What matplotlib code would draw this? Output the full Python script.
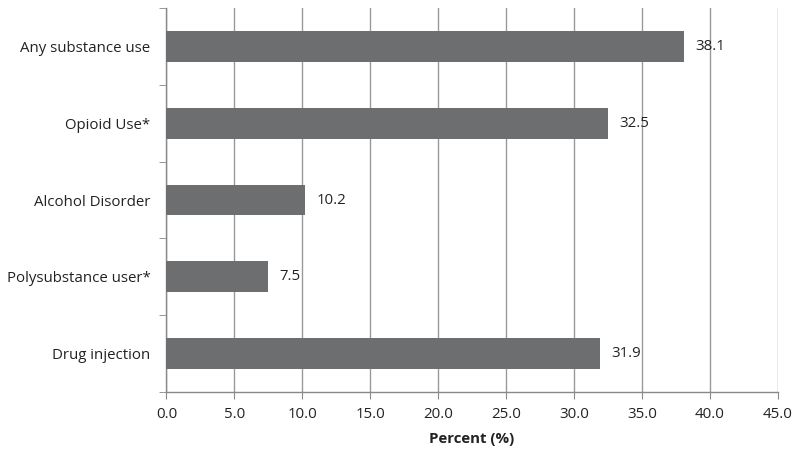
import numpy as np
import matplotlib.pyplot as plt

# data
categories = ['Any substance use', 'Opioid Use*', 'Alcohol Disorder',
              'Polysubstance user*', 'Drug injection']
values = [38.1, 32.5, 10.2, 7.5, 31.9]
xticks = [0, 5, 10, 15, 20, 25, 30, 35, 40, 45]

plt.rcParams['font.family'] = ['Open Sans', 'DejaVu Sans']
fs = 10.8

fig = plt.figure(figsize=(8, 4.58), dpi=100)
ax = fig.add_axes([0.208, 0.144, 0.764, 0.8385])

ypos = np.arange(len(categories))[::-1]
ax.barh(ypos, values, height=0.4, color='#6d6e70', zorder=3)

for y, v in zip(ypos, values):
    ax.text(v + 0.85, y, '%.1f' % v, va='center', ha='left', fontsize=fs, color='#222222')

ax.set_xlim(0, 45)
ax.set_ylim(-0.5, len(categories) - 0.5)
ax.set_xticks(xticks)
ax.set_xticklabels(['%.1f' % t for t in xticks], fontsize=fs, color='#222222')
ax.set_yticks(ypos)
ax.set_yticklabels(categories, fontsize=fs, color='#222222')
ax.set_yticks(np.arange(len(categories) + 1) - 0.5, minor=True)
ax.tick_params(axis='y', which='major', length=0, pad=11.5)
ax.tick_params(axis='y', which='minor', length=5, color='#888888')
ax.tick_params(axis='x', length=5, color='#888888', pad=6)

ax.grid(axis='x', color='#999999', linewidth=1, zorder=0)
for s in ['top', 'right']:
    ax.spines[s].set_visible(False)
for s in ['left', 'bottom']:
    ax.spines[s].set_color('#888888')
    ax.spines[s].set_linewidth(1)

ax.set_xlabel('Percent (%)', fontsize=fs, fontweight='bold', color='#222222', labelpad=7)

fig.savefig('out.png', dpi=100)
